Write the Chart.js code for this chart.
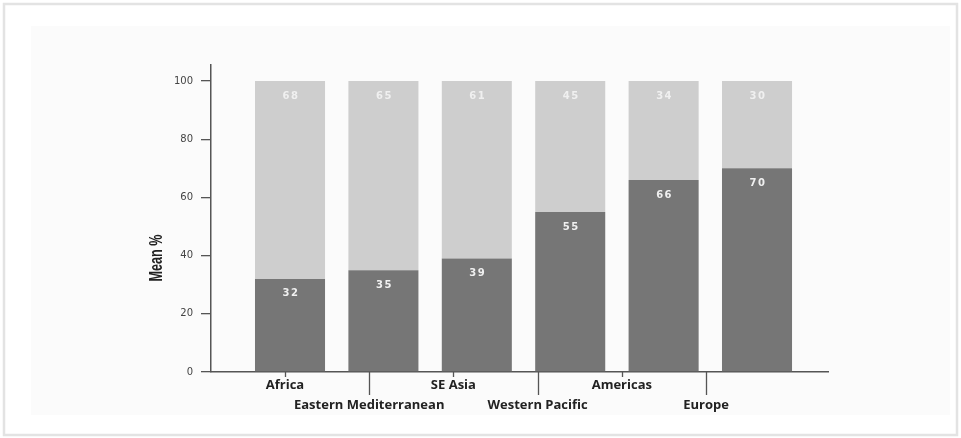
<!DOCTYPE html>
<html>
<head>
<meta charset="utf-8">
<script src="https://cdn.jsdelivr.net/npm/chart.js@4"></script>
<style>
  html, body { margin: 0; padding: 0; background: #fff; }
  canvas { display: block; }
</style>
</head>
<body>
<canvas id="chart" width="961" height="438"></canvas>
<script>
const categories = ['Africa', 'Eastern Mediterranean', 'SE Asia', 'Western Pacific', 'Americas', 'Europe'];
const lowerValues = [32, 35, 39, 55, 66, 70];
const upperValues = [68, 65, 61, 45, 34, 30];
const yTicks = [0, 20, 40, 60, 80, 100];
const yTitle = 'Mean %';

const darkGrey = '#767676';
const lightGrey = '#cecece';
const axisColor = '#555';

// frame + faint panel behind everything
const framePlugin = {
  id: 'frame',
  beforeDraw(chart) {
    const ctx = chart.ctx;
    ctx.save();
    ctx.fillStyle = '#fff';
    ctx.fillRect(0, 0, chart.width, chart.height);
    ctx.fillStyle = '#fbfbfb';
    ctx.fillRect(31, 26, 919, 389);
    ctx.strokeStyle = '#e3e3e3';
    ctx.lineWidth = 2.5;
    ctx.strokeRect(4, 4, 953, 431);
    ctx.restore();
  }
};

// numbers near the top of every segment, title, category tick marks
const extrasPlugin = {
  id: 'extras',
  afterDatasetsDraw(chart) {
    const ctx = chart.ctx;
    ctx.save();
    ctx.fillStyle = '#f0f0f0';
    ctx.font = 'bold 10px "DejaVu Sans"';
    ctx.letterSpacing = '1.5px';
    ctx.textAlign = 'center';
    ctx.textBaseline = 'middle';
    chart.data.datasets.forEach((ds, di) => {
      chart.getDatasetMeta(di).data.forEach((bar, i) => {
        ctx.fillText(String(ds.data[i].y), bar.x + 1, bar.y + 15);
      });
    });
    ctx.restore();
  },
  afterDraw(chart) {
    const ctx = chart.ctx;
    const xl = chart.scales.xl;
    const bottom = chart.chartArea.bottom;
    ctx.save();
    ctx.strokeStyle = axisColor;
    ctx.lineWidth = 1.3;
    categories.forEach((c, i) => {
      const px = Math.round(xl.getPixelForValue(i)) + 0.5;
      ctx.beginPath();
      ctx.moveTo(px, bottom);
      ctx.lineTo(px, bottom + (i % 2 ? 23 : 5));
      ctx.stroke();
    });
    ctx.translate(157, 258);
    ctx.rotate(-Math.PI / 2);
    ctx.fillStyle = '#222';
    ctx.font = 'bold 18px "Liberation Sans", sans-serif';
    ctx.textAlign = 'center';
    ctx.textBaseline = 'middle';
    ctx.scale(47 / ctx.measureText(yTitle).width, 1);
    ctx.fillText(yTitle, 0, 0);
    ctx.restore();
  }
};

new Chart(document.getElementById('chart'), {
  type: 'bar',
  data: {
    datasets: [
      {
        label: 'lower',
        data: lowerValues.map((v, i) => ({ x: i, y: v })),
        backgroundColor: darkGrey,
        categoryPercentage: 1,
        barPercentage: 0.75,
        xAxisID: 'x',
        yAxisID: 'y'
      },
      {
        label: 'upper',
        data: upperValues.map((v, i) => ({ x: i, y: v })),
        backgroundColor: lightGrey,
        categoryPercentage: 1,
        barPercentage: 0.75,
        xAxisID: 'x',
        yAxisID: 'y'
      }
    ]
  },
  options: {
    responsive: false,
    animation: false,
    layout: { padding: { top: 65, right: 133, bottom: 0, left: 0 } },
    plugins: {
      legend: { display: false },
      tooltip: { enabled: false }
    },
    scales: {
      x: {
        type: 'linear',
        display: false,
        stacked: true,
        offset: false,
        min: -0.846,
        max: 5.76,
        afterBuildTicks: s => { s.ticks = categories.map((c, i) => ({ value: i })); }
      },
      xl: {
        type: 'linear',
        position: 'bottom',
        offset: false,
        min: -0.879,
        max: 6.449,
        afterBuildTicks: s => { s.ticks = categories.map((c, i) => ({ value: i })); },
        afterFit: s => { s.height = 66; },
        grid: { drawOnChartArea: false, drawTicks: false, offset: false },
        border: { display: true, color: axisColor, width: 1.5 },
        ticks: {
          autoSkip: false,
          maxRotation: 0,
          padding: 3,
          color: '#222',
          font: { family: '"Open Sans"', size: 13, weight: '700', lineHeight: 1.55 },
          callback: (v, i) => i % 2 ? ['', categories[v]] : categories[v]
        }
      },
      y: {
        stacked: true,
        min: 0,
        max: 105.5,
        afterBuildTicks: s => { s.ticks = yTicks.map(v => ({ value: v })); },
        afterFit: s => { s.width = 211; },
        grid: { drawOnChartArea: false, tickLength: 10, color: axisColor, lineWidth: 1.3 },
        border: { display: true, color: axisColor, width: 1.5 },
        ticks: {
          padding: 8,
          color: '#444',
          font: { family: '"DejaVu Sans"', size: 10 }
        }
      }
    }
  },
  plugins: [framePlugin, extrasPlugin]
});
</script>
</body>
</html>
